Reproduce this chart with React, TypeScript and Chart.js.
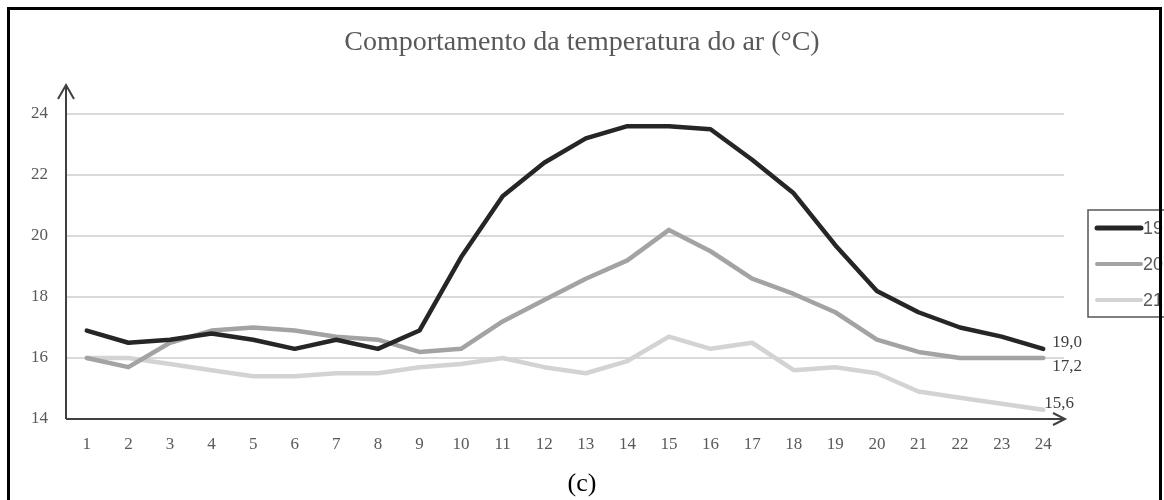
import React, { useEffect, useRef } from "react";
import { Chart, registerables } from "chart.js";

Chart.register(...registerables);

const hours = ["1","2","3","4","5","6","7","8","9","10","11","12","13","14","15","16","17","18","19","20","21","22","23","24"];
const series19 = [16.9,16.5,16.6,16.8,16.6,16.3,16.6,16.3,16.9,19.3,21.3,22.4,23.2,23.6,23.6,23.5,22.5,21.4,19.7,18.2,17.5,17.0,16.7,16.3];
const series20 = [16.0,15.7,16.5,16.9,17.0,16.9,16.7,16.6,16.2,16.3,17.2,17.9,18.6,19.2,20.2,19.5,18.6,18.1,17.5,16.6,16.2,16.0,16.0,16.0];
const series21 = [16.0,16.0,15.8,15.6,15.4,15.4,15.5,15.5,15.7,15.8,16.0,15.7,15.5,15.9,16.7,16.3,16.5,15.6,15.7,15.5,14.9,14.7,14.5,14.3];
const seriesNames = ["19", "20", "21"];
const endLabels = ["19,0", "17,2", "15,6"];
const yTicks = [14, 16, 18, 20, 22, 24];
const titleText = "Comportamento da temperatura do ar (°C)";
const captionText = "(c)";

const colors = ["#262626", "#a3a3a3", "#d3d3d3"];
const widths = [4.5, 4.5, 4.5];
const endOffsets = [
  { dx: 9, dy: -6 },
  { dx: 9, dy: 9 },
  { dx: 1, dy: -6 },
];

const decorPlugin = {
  id: "decor",
  afterDatasetsDraw(chart: any) {
    const ctx = chart.ctx;
    const area = chart.chartArea;
    const xs = chart.scales.x;
    const ys = chart.scales.y;
    ctx.save();
    // axes
    ctx.strokeStyle = "#404040";
    ctx.lineWidth = 2;
    ctx.lineCap = "butt";
    const x0 = area.left;
    const y0 = ys.getPixelForValue(14);
    ctx.beginPath();
    ctx.moveTo(x0, y0);
    ctx.lineTo(x0, 85);
    ctx.moveTo(x0 - 8, 99);
    ctx.lineTo(x0, 85);
    ctx.lineTo(x0 + 8, 99);
    ctx.moveTo(x0, y0);
    ctx.lineTo(area.right + 1, y0);
    ctx.moveTo(area.right - 11, y0 - 6);
    ctx.lineTo(area.right + 1, y0);
    ctx.lineTo(area.right - 11, y0 + 6);
    ctx.stroke();

    // end labels
    ctx.font = "17px 'Liberation Serif', serif";
    ctx.fillStyle = "#404040";
    ctx.textAlign = "left";
    ctx.textBaseline = "middle";
    const all = [series19, series20, series21];
    all.forEach((s, i) => {
      const last = s.length - 1;
      const px = xs.getPixelForValue(last);
      const py = ys.getPixelForValue(s[last]);
      ctx.fillText(endLabels[i], px + endOffsets[i].dx, py + endOffsets[i].dy);
    });

    // legend
    const lx = 1088;
    const ly = 210;
    ctx.fillStyle = "#ffffff";
    ctx.fillRect(lx, ly, 120, 107);
    ctx.strokeStyle = "#555555";
    ctx.lineWidth = 1.5;
    ctx.strokeRect(lx, ly, 120, 107);
    ctx.font = "18px 'Liberation Sans', sans-serif";
    ctx.textBaseline = "middle";
    seriesNames.forEach((n, i) => {
      const y = ly + 18 + i * 36;
      ctx.strokeStyle = colors[i];
      ctx.lineWidth = i === 0 ? 5 : 4;
      ctx.lineCap = "round";
      ctx.beginPath();
      ctx.moveTo(lx + 9, y);
      ctx.lineTo(lx + 53, y);
      ctx.stroke();
      ctx.fillStyle = "#595959";
      ctx.fillText(n, lx + 55, y + 1);
    });
    ctx.restore();
  },
};

export default function App() {
  const ref = useRef<HTMLCanvasElement>(null);
  useEffect(() => {
    document.body.style.margin = "0";
    const chart = new Chart(ref.current as HTMLCanvasElement, {
      type: "line",
      data: {
        labels: hours,
        datasets: [series19, series20, series21].map((d, i) => ({
          label: seriesNames[i],
          data: d,
          borderColor: colors[i],
          backgroundColor: colors[i],
          borderWidth: widths[i],
          pointRadius: 0,
          tension: 0,
          borderCapStyle: "round" as const,
          borderJoinStyle: "round" as const,
        })),
      },
      options: {
        animation: false,
        responsive: false,
        maintainAspectRatio: false,
        layout: { padding: { left: 0, right: 0, top: 0, bottom: 0 } },
        plugins: {
          legend: { display: false },
          tooltip: { enabled: false },
          title: {
            display: true,
            text: titleText,
            color: "#595959",
            font: { family: "'Liberation Serif', serif", size: 28, weight: "normal" as const, lineHeight: 1.2 },
            padding: { top: 26, bottom: 54.4 },
          },
          subtitle: {
            display: true,
            position: "bottom" as const,
            text: captionText,
            color: "#000000",
            font: { family: "'Liberation Serif', serif", size: 26, weight: "normal" as const, lineHeight: 1.2 },
            padding: { top: 0, bottom: 0.4 },
          },
        },
        scales: {
          x: {
            type: "category",
            offset: true,
            grid: { display: false, drawTicks: false },
            border: { display: false },
            ticks: {
              color: "#595959",
              font: { family: "'Liberation Serif', serif", size: 17 },
              padding: 15,
              maxRotation: 0,
              autoSkip: false,
            },
            afterFit: (s: any) => { s.height = 49.4; },
          },
          y: {
            min: 14,
            max: 24,
            afterBuildTicks: (s: any) => { s.ticks = yTicks.map((v) => ({ value: v })); },
            grid: {
              drawTicks: false,
              color: (c: any) => (c.tick && c.tick.value === 14 ? "rgba(0,0,0,0)" : "#d9d9d9"),
              lineWidth: 2,
            },
            border: { display: false },
            ticks: {
              color: "#595959",
              font: { family: "'Liberation Serif', serif", size: 17 },
              padding: 18,
            },
            afterFit: (s: any) => { s.width = 66; },
          },
          spacer: {
            position: "right",
            display: true,
            grid: { display: false, drawTicks: false },
            border: { display: false },
            ticks: { display: false },
            afterFit: (s: any) => { s.width = 100; },
          },
        },
      },
      plugins: [decorPlugin],
    } as any);
    return () => chart.destroy();
  }, []);
  return (
    <div style={{ position: "relative", width: 1164, height: 500, overflow: "hidden" }}>
      <canvas ref={ref} width={1164} height={500} style={{ position: "absolute", left: 0, top: 0 }} />
      <div
        style={{
          position: "absolute",
          left: 7,
          top: 7,
          width: 1155,
          height: 600,
          border: "3px solid #000",
          boxSizing: "border-box",
          pointerEvents: "none",
        }}
      />
    </div>
  );
}
